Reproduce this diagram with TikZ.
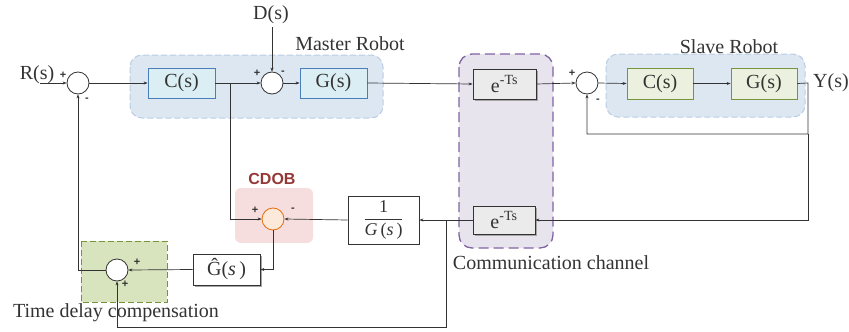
\documentclass[tikz,border=0pt]{standalone}
\usepackage{fontspec}
\setmainfont{Liberation Serif}
\setsansfont{Liberation Sans}
\usetikzlibrary{arrows.meta,shadows}
\definecolor{ln}{HTML}{333333}
\definecolor{regfill}{HTML}{DDE7F2}
\definecolor{regdraw}{HTML}{B9CDE5}
\definecolor{mfill}{HTML}{DBEEF4}
\definecolor{mdraw}{HTML}{4A7EBB}
\definecolor{sfill}{HTML}{EBF1DE}
\definecolor{sdraw}{HTML}{77933C}
\definecolor{cfill}{HTML}{E8E4EE}
\definecolor{cdraw}{HTML}{8064A2}
\definecolor{pfill}{HTML}{F5DEDD}
\definecolor{ofill}{HTML}{FDE9D9}
\definecolor{odraw}{HTML}{E46C0A}
\definecolor{gfill}{HTML}{D7E4BD}
\definecolor{cdobtxt}{HTML}{953735}
\begin{document}
\begin{tikzpicture}[x=1pt,y=-1pt,
  every node/.style={text=ln},
  txt/.style={font=\fontsize{20}{24}\selectfont, inner sep=0pt},
  sgn/.style={font=\fontsize{11}{12}\sffamily\bfseries, inner sep=0pt},
  sumc/.style={circle, draw=ln, fill=white, line width=0.8pt, minimum size=22pt, inner sep=0pt},
  mbox/.style={draw=mdraw, fill=mfill, line width=0.8pt, minimum width=67pt, minimum height=30pt, inner sep=0pt, font=\fontsize{20}{24}\selectfont},
  sbox/.style={draw=sdraw, fill=sfill, line width=0.8pt, minimum width=66pt, minimum height=31pt, inner sep=0pt, font=\fontsize{20}{24}\selectfont},
  dbox/.style={draw=ln, fill=white, line width=0.8pt, inner sep=0pt, font=\fontsize{20}{24}\selectfont,
     drop shadow={shadow xshift=1.5pt, shadow yshift=-1.5pt, fill=black!35, opacity=1}},
  con/.style={draw=ln, line width=0.7pt},
  arr/.style={con, -{Stealth[length=4pt,width=3pt]}}
]
\useasboundingbox (0,0) rectangle (849,332);
% regions
\fill[regfill, rounded corners=12pt] (130,55) rectangle (383,118);
\draw[regdraw, dashed, line width=1pt, dash pattern=on 6pt off 3pt, rounded corners=12pt] (130,55) rectangle (383,118);
\fill[regfill, rounded corners=12pt] (606,54) rectangle (805,117);
\draw[regdraw, line width=1pt, dash pattern=on 6pt off 3pt, rounded corners=12pt] (606,54) rectangle (805,117);
\fill[cfill, rounded corners=13pt] (459,54) rectangle (553,248);
\draw[cdraw, line width=1.3pt, dash pattern=on 10pt off 5pt, rounded corners=13pt] (459,54) rectangle (553,248);
\fill[pfill, rounded corners=6pt] (235,188) rectangle (313,243);
\fill[gfill] (81,241) rectangle (167,302);
\draw[sdraw, line width=0.9pt, dash pattern=on 6pt off 3pt] (81,241) rectangle (167,302);
% labels
\node[txt] (lm) at (350,44) {Master Robot};
\node[txt] (ls) at (729,47) {Slave Robot};
\node[txt] (lc) at (551,263) {Communication channel};
\node[txt] (lt) at (116,313) {Time delay compensation};
\node[font=\fontsize{16}{18}\sffamily\bfseries, text=cdobtxt, inner sep=0pt] (lcdob) at (272,179) {CDOB};
\node[txt] (lr) at (37,75) {R(s)};
\node[txt] (ld) at (271,15) {D(s)};
\node[txt] (ly) at (831,83) {Y(s)};
% blocks
\node[sumc] (s1) at (78,83) {};
\node[mbox] (c1) at (181.5,83) {C(s)};
\node[sumc] (s2) at (272,83) {};
\node[mbox] (g1) at (333.5,83) {G(s)};
\node[dbox, fill=black!8, minimum width=63pt, minimum height=30pt] (e1) at (504.5,84) {e\textsuperscript{-Ts}};
\node[sumc] (s3) at (587,83) {};
\node[sbox] (c2) at (660,83.5) {C(s)};
\node[sbox] (g2) at (764,83.5) {G(s)};
\node[dbox, fill=black!8, minimum width=62pt, minimum height=28pt] (e2) at (504,220) {e\textsuperscript{-Ts}};
\node[draw=ln, fill=white, line width=0.8pt, minimum width=71pt, minimum height=48pt, inner sep=0pt, font=\fontsize{18}{22}\selectfont] (ig) at (383.5,220)
  {$\displaystyle\frac{\mbox{1}}{\mbox{\itshape G\,}\mbox{(}\mbox{\itshape s\,}\mbox{)}}$};
\node[sumc, draw=odraw, fill=ofill] (s5) at (273,219) {};
\node[dbox, minimum width=67pt, minimum height=31pt] (gh) at (226.5,269.5) {\^{G}(\textit{s}\,)};
\node[sumc] (s4) at (117,270) {};
% signs
\node[sgn] at (63,75) {+};
\node[sgn] at (87,100) {-};
\node[sgn] at (257,73) {+};
\node[sgn] at (283,73) {-};
\node[sgn] at (572,73) {+};
\node[sgn] at (598,101) {-};
\node[sgn] at (255,210) {+};
\node[sgn] at (293,210) {-};
\node[sgn] at (137,262) {+};
\node[sgn] at (125,284) {+};
% coordinates
\coordinate (rin) at (40,83);
\coordinate (din) at (272,27);
\coordinate (b1) at (230,83);
\coordinate (yo) at (808,83);
\coordinate (yc) at (808,134);
\coordinate (b2) at (446,220);
% connectors
\draw[arr] (rin) -- (s1.west);
\draw[arr] (s1.east) -- (c1.west);
\draw[arr] (c1.east) -- (s2.west);
\draw[arr] (din) -- (s2.north);
\draw[arr] (s2.east) -- (g1.west);
\draw[arr] (g1.east) -- (e1.west);
\draw[arr] (e1.east) -- (s3.west);
\draw[arr] (s3.east) -- (c2.west);
\draw[arr] (c2.east) -- (g2.west);
\draw[arr] (g2.east) -- (yo) -- (yc) -| (s3.south);
\draw[arr] (yc) |- (e2.east);
\draw[arr] (e2.west) -- (ig.east);
\draw[arr] (ig.west) -- (s5.east);
\draw[arr] (b1) |- (s5.west);
\draw[arr] (s5.south) |- (gh.east);
\draw[arr] (gh.west) -- (s4.east);
\draw[arr] (s4.west) -| (s1.south);
\draw[arr] (b2) -- (446,327) -| (s4.south);
\end{tikzpicture}
\end{document}
